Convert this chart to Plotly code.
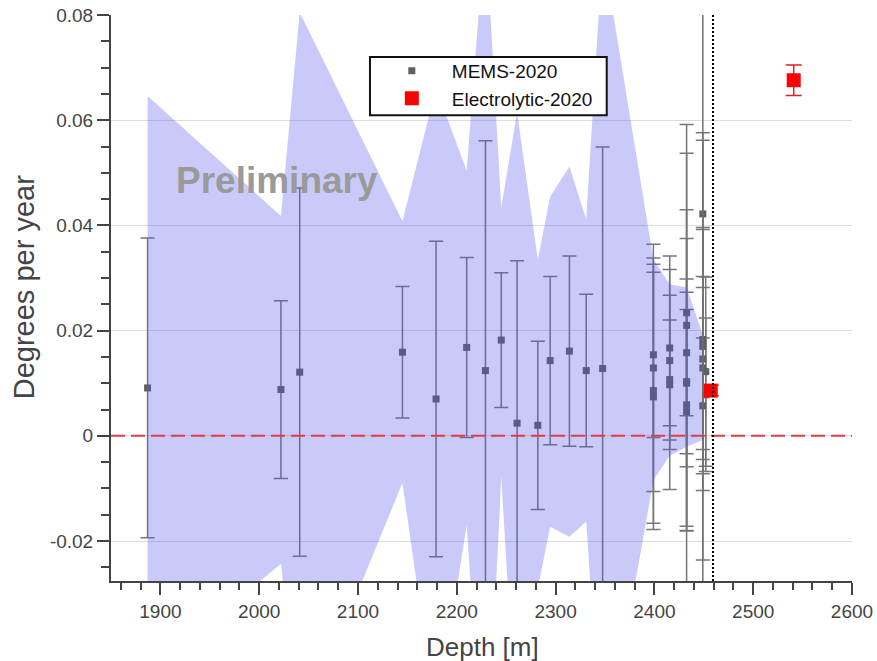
import plotly.graph_objects as go

# ---------------- data ----------------
mems_depth = [1887, 2022, 2041, 2145, 2179, 2210, 2229, 2245, 2261, 2282, 2294.5, 2314, 2331, 2347.6,
              2399, 2399, 2399, 2399,
              2415.5, 2415.5, 2415.5, 2415.5,
              2432.6, 2432.6, 2432.6, 2432.6, 2432.6, 2432.6, 2432.6,
              2449, 2449, 2449, 2449, 2452, 2452, 2449, 2449]
mems_rate = [0.0091, 0.0088, 0.0121, 0.0159, 0.0070, 0.0168, 0.0124, 0.0182, 0.0024, 0.0020, 0.0143, 0.0161, 0.0124, 0.0128,
             0.0129, 0.0086, 0.0074, 0.0154,
             0.0167, 0.0143, 0.0107, 0.0097,
             0.0234, 0.0210, 0.0158, 0.0100, 0.0103, 0.0059, 0.0046,
             0.0422, 0.0183, 0.0146, 0.0129, 0.0122, 0.0078, 0.0057, 0.0170]
mems_err = [0.0285, 0.0169, 0.0350, 0.0125, 0.0300, 0.0171, 0.0437, 0.0128, 0.0309, 0.0160, 0.0160, 0.0181, 0.0145, 0.0421,
            0.0235, 0.0252, 0.0252, 0.0157,
            0.0175, 0.0124, 0.0209, 0.0123,
            0.0196, 0.0382, 0.0217, 0.0437, 0.0137, 0.0239, 0.0227,
            0.0140, 0.0209, 0.0250, 0.0174, 0.0180, 0.0146, 0.0129, 0.0406]

elec_depth = [2457, 2541]
elec_rate = [0.0086, 0.0676]
elec_err = [0.0010, 0.0029]

band_depth = [1887, 2022, 2041, 2145, 2179, 2210, 2229, 2245, 2261, 2282, 2294.5, 2314, 2331, 2347.6,
              2399, 2415.5, 2432.6, 2449]
band_upper = [0.0646, 0.0418, 0.0805, 0.0408, 0.0661, 0.0504, 0.0970, 0.0434, 0.0615, 0.0335, 0.0455, 0.0512, 0.0411, 0.0925,
              0.0335, 0.0288, 0.0282, 0.0192]
band_lower = [-0.0455, -0.0243, -0.0568, -0.0089, -0.0540, -0.0170, -0.0700, -0.0078, -0.0587, -0.0290, -0.0173, -0.0192, -0.0163, -0.0630,
              -0.0084, -0.0038, -0.0021, -0.0008]

ref_solid_depth = 2449
ref_dotted_depth = 2459.3

y_tickvals = [-0.02, 0, 0.02, 0.04, 0.06, 0.08]
y_ticktext = ["-0.02", "0", "0.02", "0.04", "0.06", "0.08"]
x_tickvals = [1900, 2000, 2100, 2200, 2300, 2400, 2500, 2600]
x_ticktext = ["1900", "2000", "2100", "2200", "2300", "2400", "2500", "2600"]

FONT = "Liberation Sans, Arial, sans-serif"
AX = "#444444"

fig = go.Figure()

# MEMS points (drawn first so the translucent band tints them)
fig.add_trace(go.Scatter(
    x=mems_depth, y=mems_rate, mode="markers", name="MEMS-2020",
    marker=dict(symbol="square", size=7, color="#606060"),
    error_y=dict(type="data", array=mems_err, visible=True, color="#777777", thickness=1.5, width=7),
))

# shaded band
fig.add_trace(go.Scatter(
    x=band_depth + band_depth[::-1],
    y=band_upper + band_lower[::-1],
    mode="lines", fill="toself", fillcolor="rgba(80,80,240,0.30)",
    line=dict(width=0), hoverinfo="skip", showlegend=False,
))

# Electrolytic points
fig.add_trace(go.Scatter(
    x=elec_depth, y=elec_rate, mode="markers", name="Electrolytic-2020",
    marker=dict(symbol="square", size=14, color="#ff0000"),
    error_y=dict(type="data", array=elec_err, visible=True, color="#e02020", thickness=1.5, width=8),
))

shapes = [
    dict(type="line", xref="paper", x0=0, x1=1, yref="y", y0=0, y1=0,
         line=dict(color="#e03c46", width=2, dash="14px,6px"), layer="above"),
    dict(type="line", xref="x", x0=ref_solid_depth, x1=ref_solid_depth, yref="paper", y0=0, y1=1,
         line=dict(color="#707070", width=1.5), layer="above"),
    dict(type="line", xref="x", x0=ref_dotted_depth, x1=ref_dotted_depth, yref="paper", y0=0, y1=1,
         line=dict(color="#000000", width=2, dash="2px,2px"), layer="above"),
    # legend box
    dict(type="rect", xref="paper", yref="paper", x0=0.3495, x1=0.669, y0=0.823, y1=0.926,
         fillcolor="white", line=dict(color="#111111", width=2), layer="above"),
]

annotations = [
    dict(text="<b>Preliminary</b>", x=2018, y=0.0485, xref="x", yref="y", showarrow=False,
         font=dict(family=FONT, size=37, color="#9a9a9a")),
    dict(text="Degrees per year", x=-0.1174, y=0.519, xref="paper", yref="paper", showarrow=False,
         textangle=-90, xanchor="center", yanchor="middle",
         font=dict(family=FONT, size=29, color=AX)),
    dict(text="Depth [m]", x=0.5007, y=-0.117, xref="paper", yref="paper", showarrow=False,
         xanchor="center", yanchor="middle",
         font=dict(family=FONT, size=26, color=AX)),
]

fig.update_layout(
    width=877, height=661,
    margin=dict(l=111, r=25, t=15, b=80, autoexpand=False),
    paper_bgcolor="white", plot_bgcolor="white",
    font=dict(family=FONT, size=19, color=AX),
    shapes=shapes, annotations=annotations,
    showlegend=True,
    legend=dict(x=0.352, y=0.935, xanchor="left", yanchor="top",
                bgcolor="rgba(0,0,0,0)", borderwidth=0, itemwidth=70,
                font=dict(family=FONT, size=19, color="#111111"), tracegroupgap=2),
    xaxis=dict(range=[1850, 2600], tickmode="array", tickvals=x_tickvals, ticktext=x_ticktext,
               automargin=False,
               showgrid=False, zeroline=False, showline=True, linecolor=AX, linewidth=2,
               ticks="outside", ticklen=12, tickwidth=1.5, tickcolor=AX,
               tickfont=dict(family=FONT, size=19, color=AX),
               minor=dict(tickmode="linear", tick0=1900, dtick=20, ticks="outside", ticklen=7,
                          tickwidth=1.5, tickcolor=AX, showgrid=False)),
    yaxis=dict(range=[-0.0276, 0.08], tickmode="array", tickvals=y_tickvals, ticktext=y_ticktext,
               automargin=False,
               showgrid=True, gridcolor="#dcdcdc", gridwidth=1, zeroline=False,
               showline=True, linecolor=AX, linewidth=2,
               ticks="outside", ticklen=12, tickwidth=1.5, tickcolor=AX,
               tickfont=dict(family=FONT, size=19, color=AX),
               minor=dict(tickmode="linear", tick0=0, dtick=0.005, ticks="outside", ticklen=8,
                          tickwidth=1.5, tickcolor=AX, showgrid=False)),
)

fig.write_html("out.html")
